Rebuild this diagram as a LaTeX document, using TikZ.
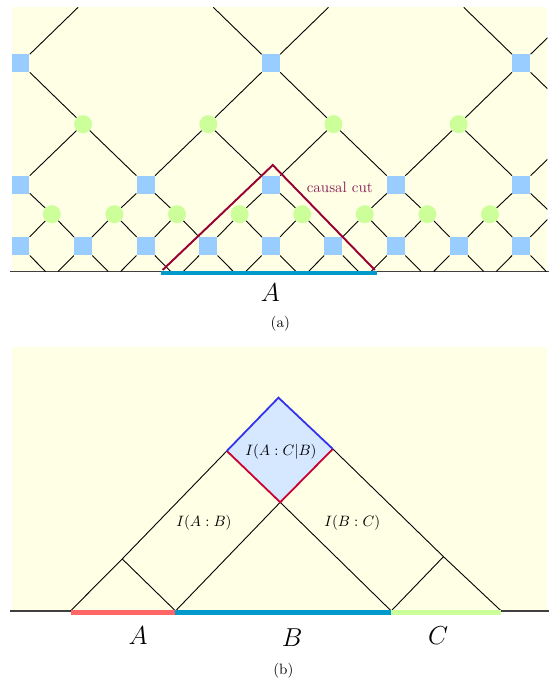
\documentclass[tikz,border=0pt]{standalone}
\usepackage{amsmath, amssymb}
\usepackage{tikz}
\usepackage{color}

\definecolor{bgyellow}{HTML}{FFFFE6}
\definecolor{sqblue}{HTML}{99CCFF}
\definecolor{cigreen}{HTML}{CCFF99}
\definecolor{barblue}{HTML}{0099CC}
\definecolor{barred}{HTML}{FF6666}
\definecolor{cutred}{HTML}{990033}
\definecolor{cuttext}{HTML}{8B1F55}
\definecolor{diamblue}{HTML}{3333EE}
\definecolor{diamred}{HTML}{CC0033}
\definecolor{diamfill}{HTML}{D6E8FF}

\begin{document}
\begin{tikzpicture}[x=1.467cm, y=1.467cm,
  sq/.style={rectangle, fill=sqblue, inner sep=0pt, minimum size=12pt},
  ci/.style={circle, fill=cigreen, inner sep=0pt, minimum size=12pt},
  net/.style={black, line width=0.6pt},
  base/.style={black!75, line width=0.8pt},
  bar/.style={line width=3.3pt},
  edge/.style={line width=1.3pt}]

\useasboundingbox (-0.3275,-6.542) rectangle (8.474,4.337);

\fill[bgyellow] (-0.14,0) rectangle (8.415,4.22);
\draw[base] (-0.17,0) -- (8.44,0);

\begin{scope}
\clip (-0.14,0) rectangle (8.415,4.22);

\node[sq] (a0) at (0,0.403) {};
\node[sq] (a1) at (1,0.403) {};
\node[sq] (a2) at (2,0.403) {};
\node[sq] (a3) at (3,0.403) {};
\node[sq] (a4) at (4,0.403) {};
\node[sq] (a5) at (5,0.403) {};
\node[sq] (a6) at (6,0.403) {};
\node[sq] (a7) at (7,0.403) {};
\node[sq] (a8) at (8,0.403) {};

\node[ci] (b0) at (0.5,0.915) {};
\node[ci] (b1) at (1.5,0.915) {};
\node[ci] (b2) at (2.5,0.915) {};
\node[ci] (b3) at (3.5,0.915) {};
\node[ci] (b4) at (4.5,0.915) {};
\node[ci] (b5) at (5.5,0.915) {};
\node[ci] (b6) at (6.5,0.915) {};
\node[ci] (b7) at (7.5,0.915) {};
\coordinate (b8) at (8.5,0.915);

\node[sq] (c0) at (0,1.387) {};
\node[sq] (c2) at (2,1.387) {};
\node[sq] (c4) at (4,1.387) {};
\node[sq] (c6) at (6,1.387) {};
\node[sq] (c8) at (8,1.387) {};

\node[ci] (d1) at (1,2.353) {};
\node[ci] (d3) at (3,2.353) {};
\node[ci] (d5) at (5,2.353) {};
\node[ci] (d7) at (7,2.353) {};
\coordinate (d9) at (9,2.353);

\node[sq] (e0) at (0,3.326) {};
\node[sq] (e4) at (4,3.326) {};
\node[sq] (e8) at (8,3.326) {};

\coordinate (z1l) at (0.6,0);
\coordinate (z2l) at (1.6,0);
\coordinate (z3l) at (2.6,0);
\coordinate (z4l) at (3.6,0);
\coordinate (z5l) at (4.6,0);
\coordinate (z6l) at (5.6,0);
\coordinate (z7l) at (6.6,0);
\coordinate (z8l) at (7.6,0);
\coordinate (z0r) at (0.4,0);
\coordinate (z1r) at (1.4,0);
\coordinate (z2r) at (2.4,0);
\coordinate (z3r) at (3.4,0);
\coordinate (z4r) at (4.4,0);
\coordinate (z5r) at (5.4,0);
\coordinate (z6r) at (6.4,0);
\coordinate (z7r) at (7.4,0);
\coordinate (z8r) at (8.4,0);

\coordinate (t0r) at (0.92,4.22);
\coordinate (t4l) at (3.08,4.22);
\coordinate (t4r) at (4.92,4.22);
\coordinate (t8l) at (7.08,4.22);
\coordinate (t8r) at (8.92,4.22);

\draw[net] (z0r) -- (a0);
\draw[net] (z1r) -- (a1) -- (b0) -- (c0);
\draw[net] (z2r) -- (a2) -- (b1);
\draw[net] (z3r) -- (a3) -- (b2) -- (c2) -- (d1) -- (e0);
\draw[net] (z4r) -- (a4) -- (b3);
\draw[net] (z5r) -- (a5) -- (b4) -- (c4) -- (d3);
\draw[net] (z6r) -- (a6) -- (b5);
\draw[net] (z7r) -- (a7) -- (b6) -- (c6) -- (d5) -- (e4) -- (t4l);
\draw[net] (z8r) -- (a8) -- (b7);
\draw[net] (b8) -- (c8) -- (d7);
\draw[net] (d9) -- (e8) -- (t8l);

\draw[net] (a0) -- (b0);
\draw[net] (z1l) -- (a1) -- (b1) -- (c2) -- (d3) -- (e4) -- (t4r);
\draw[net] (z2l) -- (a2) -- (b2);
\draw[net] (z3l) -- (a3) -- (b3) -- (c4) -- (d5);
\draw[net] (z4l) -- (a4) -- (b4);
\draw[net] (z5l) -- (a5) -- (b5) -- (c6) -- (d7) -- (e8) -- (t8r);
\draw[net] (z6l) -- (a6) -- (b6);
\draw[net] (z7l) -- (a7) -- (b7) -- (c8) -- (d9);
\draw[net] (z8l) -- (a8) -- (b8);
\draw[net] (c0) -- (d1);
\draw[net] (e0) -- (t0r);
\end{scope}

\coordinate (barl) at (2.24,0);
\coordinate (barr) at (5.69,0);
\draw[bar, barblue] ([yshift=-1pt]barl) -- ([yshift=-1pt]barr);

\coordinate (cutl) at (2.27,0.024);
\coordinate (cutt) at (4.03,1.70);
\coordinate (cutr) at (5.66,0.024);
\draw[edge, cutred] (cutl) -- (cutt) -- (cutr);
\node[cuttext] (cutlab) at (5.10,1.34) {causal cut};

\node (labA) at (3.99,-0.335) {\LARGE $A$};
\node (capa) at (4.15,-0.84) {(a)};

\begin{scope}[shift={(0,-5.423)}]
\fill[bgyellow] (-0.14,0) rectangle (8.415,4.22);
\draw[base] (-0.17,0) -- (8.44,0);

\coordinate (pa0) at (0.799,0);
\coordinate (pa1) at (2.476,0);
\coordinate (pb1) at (5.922,0);
\coordinate (pc1) at (7.679,0);
\coordinate (ta) at (1.625,0.831);
\coordinate (tc) at (6.757,0.867);
\coordinate (kl) at (3.296,2.556);
\coordinate (kr) at (4.989,2.588);
\coordinate (kb) at (4.149,1.736);
\coordinate (kt) at (4.121,3.407);

\fill[diamfill] (kb) -- (kr) -- (kt) -- (kl) -- cycle;

\draw[net] (pa0) -- (ta) -- (kl);
\draw[net] (pa1) -- (ta);
\draw[net] (pa1) -- (kb);
\draw[net] (pb1) -- (kb);
\draw[net] (pb1) -- (tc);
\draw[net] (pc1) -- (tc) -- (kr);
\draw[edge, diamred, line width=1.2pt] (kl) -- (kb) -- (kr);
\draw[edge, diamblue, line width=1.2pt] (kl) -- (kt) -- (kr);

\draw[bar, barred] ([yshift=-1pt]pa0) -- ([yshift=-1pt]pa1);
\draw[bar, barblue] ([yshift=-1pt]pa1) -- ([yshift=-1pt]pb1);
\draw[bar, cigreen] ([yshift=-1pt]pb1) -- ([yshift=-1pt]pc1);

\node (iac) at (4.16,2.545) {$I(A:C|B)$};
\node (iab) at (2.93,1.41) {$I(A:B)$};
\node (ibc) at (5.30,1.41) {$I(B:C)$};

\node (labpA) at (1.88,-0.397) {\LARGE $A$};
\node (labpB) at (4.34,-0.432) {\LARGE $B$};
\node (labpC) at (6.67,-0.387) {\LARGE $C$};
\node (capb) at (4.2,-0.957) {(b)};
\end{scope}

\end{tikzpicture}
\end{document}
